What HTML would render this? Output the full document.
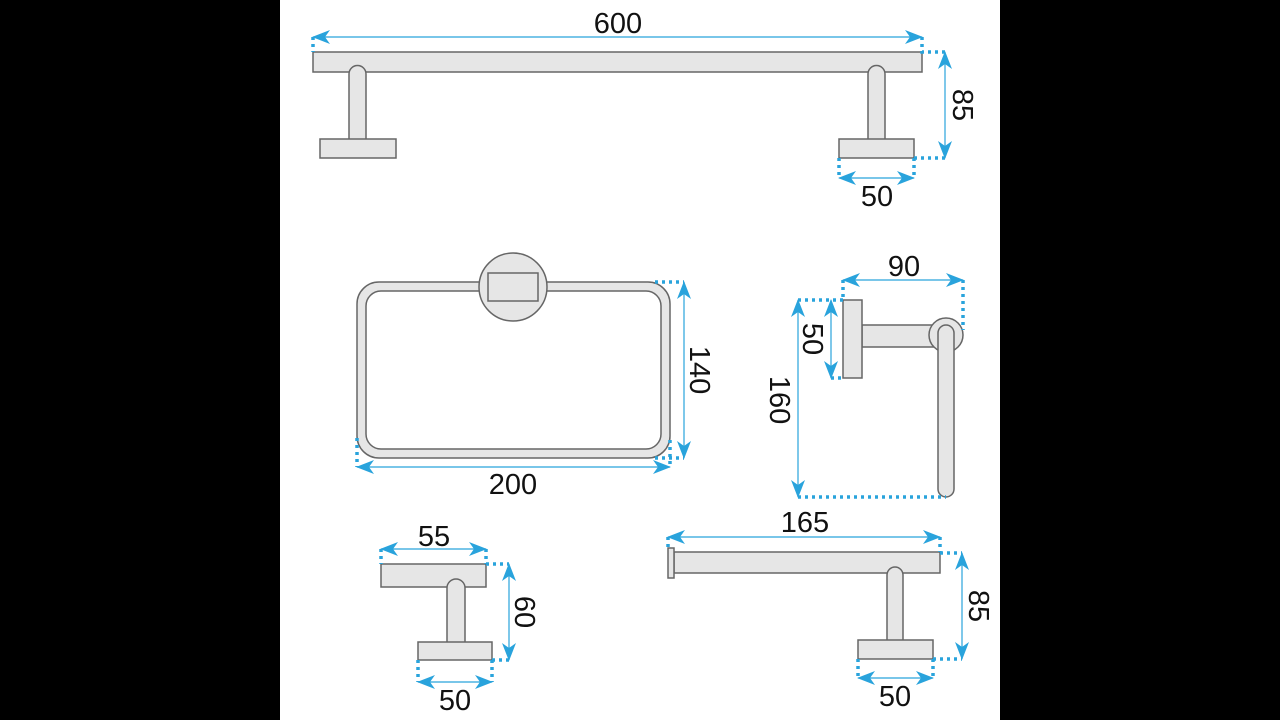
<!DOCTYPE html>
<html><head><meta charset="utf-8"><style>
html,body{margin:0;padding:0;background:#000;}
svg{display:block;}
text{font-family:"Liberation Sans",sans-serif;font-size:29px;fill:#111;}
</style></head><body>
<svg width="1280" height="720" viewBox="0 0 1280 720" xmlns="http://www.w3.org/2000/svg">
<defs>
<marker id="a" viewBox="0 0 18 14" refX="17" refY="7" markerWidth="18" markerHeight="14" markerUnits="userSpaceOnUse" orient="auto-start-reverse">
<path d="M0,0 L18,7 L0,14 L5,7 Z" fill="#29a3dc"/>
</marker>
</defs>
<rect x="0" y="0" width="1280" height="720" fill="#000"/>
<rect x="280" y="0" width="720" height="720" fill="#fff"/>

<g fill="#e6e6e6" stroke="#666" stroke-width="1.5">
<rect x="313" y="52" width="609" height="20"/>
<path d="M349,139 V74 A8.5,8.5 0 0 1 366,74 V139"/>
<rect x="320" y="139" width="76" height="19"/>
<path d="M868,139 V74 A8.5,8.5 0 0 1 885,74 V139"/>
<rect x="839" y="139" width="75" height="19"/>

<rect x="357" y="282" width="313" height="176" rx="22"/>
<rect x="366" y="291" width="295" height="158" rx="15" fill="#fff"/>
<circle cx="513" cy="287" r="34"/>
<rect x="488" y="273" width="50" height="28"/>

<rect x="862" y="325" width="84" height="22"/>
<rect x="843" y="300" width="19" height="78"/>
<circle cx="946" cy="335" r="17"/>
<rect x="938" y="325" width="16" height="172" rx="8"/>

<rect x="381" y="564" width="105" height="23"/>
<path d="M447,642 V588 A9,9 0 0 1 465,588 V642"/>
<rect x="418" y="642" width="74" height="18"/>

<rect x="674" y="552" width="266" height="21"/>
<rect x="668" y="548" width="6" height="30"/>
<path d="M887,640 V575 A8,8 0 0 1 903,575 V640"/>
<rect x="858" y="640" width="75" height="19"/>
</g>

<g stroke="#29a3dc" stroke-width="1.2" fill="none" marker-start="url(#a)" marker-end="url(#a)">
<line x1="313" y1="37" x2="922" y2="37"/>
<line x1="945" y1="52" x2="945" y2="158"/>
<line x1="839" y1="178" x2="914" y2="178"/>
<line x1="684" y1="282" x2="684" y2="458"/>
<line x1="357" y1="467" x2="670" y2="467"/>
<line x1="843" y1="280" x2="963" y2="280"/>
<line x1="831" y1="300" x2="831" y2="378"/>
<line x1="798" y1="300" x2="798" y2="497"/>
<line x1="381" y1="549" x2="486" y2="549"/>
<line x1="509" y1="564" x2="509" y2="660"/>
<line x1="418" y1="682" x2="492" y2="682"/>
<line x1="668" y1="537" x2="940" y2="537"/>
<line x1="962" y1="553" x2="962" y2="659"/>
<line x1="858" y1="678" x2="933" y2="678"/>
</g>

<g stroke="#29a3dc" stroke-width="3.5" stroke-dasharray="3 4" fill="none">
<path d="M313,37 V52"/>
<path d="M922,37 V52 H945"/>
<path d="M914,158 H945"/>
<path d="M839,158 V178 M914,158 V178"/>
<path d="M655,282 H684 M655,458 H684"/>
<path d="M357,438 V467 M670,440 V467"/>
<path d="M843,280 V300 M963,280 V330"/>
<path d="M798,300 H843 M831,378 H843"/>
<path d="M798,497 H946"/>
<path d="M381,549 V564 M486,549 V564"/>
<path d="M486,564 H509 M492,660 H509"/>
<path d="M418,660 V682 M492,660 V682"/>
<path d="M668,537 V548 M940,537 V552"/>
<path d="M940,553 H962 M933,659 H962"/>
<path d="M858,659 V678 M933,659 V678"/>
</g>

<text x="618" y="33" text-anchor="middle">600</text>
<text x="877" y="206" text-anchor="middle">50</text>
<text transform="translate(953,105) rotate(90)" text-anchor="middle">85</text>
<text transform="translate(690,370) rotate(90)" text-anchor="middle">140</text>
<text x="513" y="494" text-anchor="middle">200</text>
<text x="904" y="276" text-anchor="middle">90</text>
<text transform="translate(803,339) rotate(90)" text-anchor="middle">50</text>
<text transform="translate(770,400) rotate(90)" text-anchor="middle">160</text>
<text x="434" y="546" text-anchor="middle">55</text>
<text transform="translate(515,612) rotate(90)" text-anchor="middle">60</text>
<text x="455" y="710" text-anchor="middle">50</text>
<text x="805" y="532" text-anchor="middle">165</text>
<text transform="translate(969,606) rotate(90)" text-anchor="middle">85</text>
<text x="895" y="706" text-anchor="middle">50</text>
</svg>
</body></html>
